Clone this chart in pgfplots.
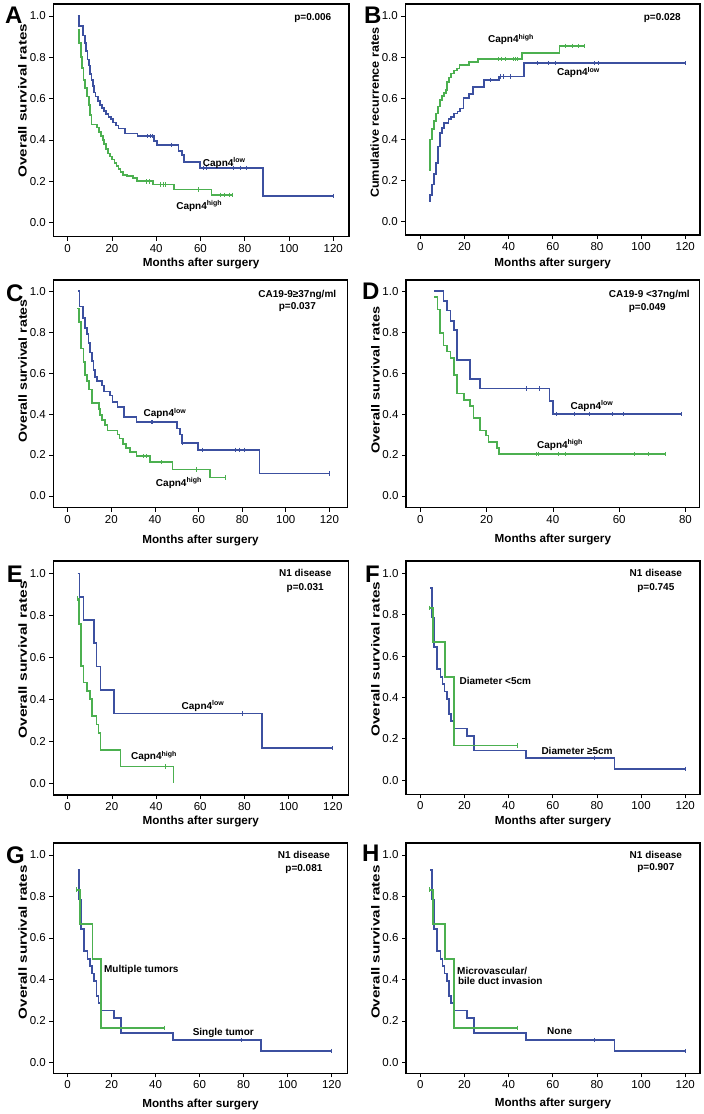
\documentclass[border=0pt]{standalone}
\usepackage{fontspec}
\setmainfont{Liberation Sans}
\usepackage{pgfplots}
\pgfplotsset{compat=1.18}
\usepackage{pgfplotstable}
\definecolor{kmblue}{RGB}{60,80,160}
\definecolor{kmgreen}{RGB}{76,176,80}
\newcommand{\annfont}{\fontsize{10}{12}\selectfont\bfseries}
\newcommand{\letfont}{\fontsize{24}{26}\selectfont\bfseries}
\newcommand{\labfont}{\fontsize{11.7}{13}\selectfont\bfseries}

\pgfplotstableread{
x y
4.5 0.929
5.3 0.786
6.2 0.643
7.5 0.536
9.1 0.50
10.1 0.464
11.0 0.429
12.1 0.393
13.1 0.321
14.0 0.286
15.1 0.25
21.1 0.214
24.2 0.143
47.8 0.107
88.0 0.054
120 0.054
}\nblue
\pgfplotstableread{
x y
79 0.107
120 0.054
}\nbluec
\pgfplotstableread{
x y
4.2 0.833
5.7 0.667
11.3 0.50
15.1 0.167
43.8 0.167
}\ngreen
\pgfplotstableread{
x y
4.2 0.833
43.8 0.167
}\ngreenc

\pgfplotsset{
  km/.style={
    scale only axis, anchor=north west,
    axis line style={line width=1.4pt},
    tick pos=left, tick align=outside, major tick length=4pt,
    tick style={line width=0.7pt, black},
    ytick={0,0.2,0.4,0.6,0.8,1},
    xtick={0,20,40,60,80,100,120},
    yticklabel style={/pgf/number format/.cd, fixed, fixed zerofill, precision=1},
    /pgf/number format/assume math mode=true,
    ticklabel style={font=\fontsize{11.5}{13}\selectfont},
    xlabel={Months after surgery},
  },
  xl/.style={every axis x label/.style={at={(axis description cs:0.5,0)}, anchor=center, yshift=-#1pt, font=\labfont}},
  yl/.style={every axis y label/.style={at={(axis description cs:-0.104,#1)}, anchor=center, rotate=90, font=\labfont}},
  bl/.style={kmblue, line width=1.7pt, const plot},
  gr/.style={kmgreen, line width=1.7pt, const plot},
  bc/.style={kmblue, only marks, mark=|, mark size=2.2pt, mark options={line width=0.7pt}},
  gc/.style={kmgreen, only marks, mark=|, mark size=2.2pt, mark options={line width=0.7pt}},
}

\begin{document}
\begin{tikzpicture}
\useasboundingbox (0,0) rectangle (704pt,-1114pt);

% ---------------- A ----------------
\begin{axis}[km, at={(53.3pt,-4pt)}, width=295.7pt, height=232.7pt,
  xmin=-6.5, xmax=127.1, ymin=-0.068, ymax=1.058, xl=26.3, yl=0.585,
  ylabel={\scalebox{1.3}[1]{Overall survival rates}}]
\addplot[bl] coordinates {(4.5,1.0) (5.1,0.952) (6.8,0.905) (7.8,0.87) (8.3,0.83) (9.0,0.79) (9.5,0.76) (10.1,0.72) (10.7,0.69) (11.3,0.66) (11.9,0.63) (12.5,0.61) (13.7,0.59) (14.6,0.57) (15.5,0.555) (16.4,0.54) (17.3,0.525) (18.5,0.51) (19.6,0.50) (20.6,0.485) (21.8,0.47) (23.0,0.455) (26.0,0.432) (31.6,0.419) (38.9,0.395) (40.2,0.376) (50.0,0.348) (51.5,0.327) (52.5,0.295) (59.8,0.265) (88.1,0.13) (120,0.13)};
\addplot[bc] coordinates {(36.1,0.419) (37.5,0.419) (38.4,0.419) (47,0.376) (61.3,0.265) (62.5,0.265) (75,0.265) (78,0.265) (80.8,0.265) (120,0.13)};
\addplot[gr] coordinates {(4.5,0.935) (5.1,0.87) (5.9,0.80) (6.5,0.75) (7.1,0.69) (7.8,0.65) (8.6,0.61) (9.5,0.57) (10.1,0.52) (10.7,0.475) (13.1,0.46) (14.0,0.44) (14.9,0.42) (15.8,0.40) (16.4,0.38) (17.3,0.355) (18.2,0.335) (19.1,0.32) (20.0,0.305) (21.2,0.29) (22.1,0.275) (22.9,0.26) (23.9,0.245) (25.1,0.23) (26.9,0.225) (29.4,0.215) (31.2,0.20) (38.4,0.185) (48.0,0.16) (65.0,0.135) (74.4,0.135)};
\addplot[gc] coordinates {(35.7,0.20) (36.9,0.20) (42,0.185) (43.2,0.185) (44,0.185) (59,0.16) (68.8,0.135) (71,0.135) (73,0.135) (74.4,0.135)};
\node[anchor=base east, font=\annfont] at (axis cs:120.7,0.977) {p=0.006};
\node[anchor=base west, font=\annfont, inner sep=0pt] at (axis cs:61,0.274) {Capn4\textsuperscript{low}};
\node[anchor=base west, font=\annfont, inner sep=0pt] at (axis cs:49,0.066) {Capn4\textsuperscript{high}};
\end{axis}

% ---------------- B ----------------
\begin{axis}[km, at={(405.3pt,-4pt)}, width=294.7pt, height=231pt,
  xmin=-6.8, xmax=126.7, ymin=-0.065, ymax=1.058, xl=28, yl=0.53,
  ylabel={\scalebox{1.08}[1]{Cumulative recurrence rates}}]
\addplot[gr] coordinates {(3.8,0.25) (4.4,0.40) (5.3,0.45) (6.2,0.49) (7.1,0.525) (8.0,0.56) (8.9,0.59) (9.8,0.61) (10.7,0.625) (11.6,0.64) (12.2,0.68) (13.1,0.70) (14.0,0.72) (15.2,0.735) (16.5,0.745) (17.7,0.76) (22.2,0.775) (26.1,0.79) (46.0,0.82) (63.0,0.855) (74.3,0.855)};
\addplot[gc] coordinates {(35.5,0.79) (36.6,0.79) (38.3,0.79) (42.3,0.79) (43,0.79) (43.8,0.79) (65.6,0.855) (68.7,0.855) (71.7,0.855) (74.3,0.855)};
\addplot[bl] coordinates {(3.8,0.10) (4.4,0.13) (5.3,0.18) (6.2,0.23) (7.1,0.285) (8.0,0.365) (8.9,0.43) (9.8,0.455) (10.7,0.48) (12.8,0.50) (14.0,0.51) (15.2,0.525) (16.8,0.535) (18.1,0.55) (19.6,0.60) (21.9,0.62) (23.8,0.655) (28.7,0.69) (35.5,0.705) (47.1,0.77) (120,0.77)};
\addplot[bc] coordinates {(31.7,0.69) (36.3,0.705) (37.8,0.705) (40.8,0.705) (52.8,0.77) (58,0.77) (61.1,0.77) (78.8,0.77) (80.5,0.77) (120,0.77)};
\node[anchor=base east, font=\annfont] at (axis cs:119.6,0.977) {p=0.028};
\node[anchor=base west, font=\annfont, inner sep=0pt] at (axis cs:30.6,0.87) {Capn4\textsuperscript{high}};
\node[anchor=base west, font=\annfont, inner sep=0pt] at (axis cs:61.9,0.708) {Capn4\textsuperscript{low}};
\end{axis}

% ---------------- C ----------------
\begin{axis}[km, at={(53.3pt,-280pt)}, width=294.4pt, height=227.7pt,
  xmin=-6.6, xmax=128.4, ymin=-0.057, ymax=1.054, xl=32.3, yl=0.60,
  ylabel={\scalebox{1.21}[1]{Overall survival rates}}]
\addplot[bl] coordinates {(4.9,1.0) (5.4,0.925) (6.9,0.87) (7.9,0.82) (8.7,0.79) (9.5,0.745) (10.2,0.70) (11.0,0.66) (11.8,0.615) (12.5,0.58) (13.3,0.56) (15.6,0.54) (16.7,0.51) (19.4,0.49) (20.6,0.46) (22.8,0.435) (25.8,0.385) (31.6,0.36) (50.0,0.33) (51.5,0.30) (52.4,0.26) (59.9,0.225) (87.9,0.11) (120,0.11)};
\addplot[bc] coordinates {(38.2,0.36) (38.8,0.36) (52.8,0.26) (61.8,0.225) (77,0.225) (78.7,0.225) (81,0.225) (120,0.11)};
\addplot[gr] coordinates {(4.4,0.915) (5.2,0.85) (6.0,0.72) (7.2,0.655) (7.9,0.59) (9.0,0.56) (9.9,0.52) (11.0,0.455) (14.2,0.425) (14.8,0.395) (15.7,0.37) (17.0,0.345) (18.2,0.32) (22.8,0.30) (23.7,0.28) (25.5,0.255) (26.8,0.235) (28.6,0.215) (31.6,0.195) (37.8,0.165) (48.0,0.13) (65.3,0.09) (72.5,0.09)};
\addplot[gc] coordinates {(34.7,0.195) (36,0.195) (42.8,0.165) (59.2,0.13) (72.5,0.09)};
\node[anchor=base, font=\annfont] at (axis cs:105.3,0.969) {CA19-9≥37ng/ml};
\node[anchor=base, font=\annfont] at (axis cs:105.3,0.91) {p=0.037};
\node[anchor=base west, font=\annfont, inner sep=0pt] at (axis cs:34.7,0.387) {Capn4\textsuperscript{low}};
\node[anchor=base west, font=\annfont, inner sep=0pt] at (axis cs:40.4,0.046) {Capn4\textsuperscript{high}};
\end{axis}

% ---------------- D ----------------
\begin{axis}[km, at={(406pt,-280pt)}, width=293.7pt, height=227.7pt,
  xmin=-4.3, xmax=84.3, ymin=-0.057, ymax=1.054, xl=32, yl=0.56,
  xtick={0,20,40,60,80},
  ylabel={\scalebox{1.24}[1]{Overall survival rates}}]
\addplot[bl] coordinates {(4.2,1.0) (7.0,0.95) (8.1,0.905) (9.1,0.855) (10.1,0.81) (11.1,0.665) (15.1,0.57) (18.1,0.525) (39.0,0.465) (40.0,0.40) (78.8,0.40)};
\addplot[bc] coordinates {(32,0.525) (35.9,0.525) (41,0.40) (46.6,0.40) (51,0.40) (58,0.40) (61.2,0.40) (78.8,0.40)};
\addplot[gr] coordinates {(4.2,0.97) (5.2,0.91) (6.0,0.795) (7.0,0.735) (8.1,0.705) (9.1,0.675) (10.1,0.59) (11.1,0.50) (13.1,0.47) (15.1,0.44) (16.1,0.38) (18.1,0.32) (19.8,0.295) (20.6,0.265) (23.1,0.235) (23.8,0.205) (74.0,0.205)};
\addplot[gc] coordinates {(34.9,0.205) (35.7,0.205) (41.8,0.205) (43.8,0.205) (64.7,0.205) (68.7,0.205) (74,0.205)};
\node[anchor=base, font=\annfont] at (axis cs:69.1,0.969) {CA19-9 <37ng/ml};
\node[anchor=base, font=\annfont] at (axis cs:68.5,0.904) {p=0.049};
\node[anchor=base west, font=\annfont, inner sep=0pt] at (axis cs:45.3,0.423) {Capn4\textsuperscript{low}};
\node[anchor=base west, font=\annfont, inner sep=0pt] at (axis cs:35.2,0.233) {Capn4\textsuperscript{high}};
\end{axis}

% ---------------- E ----------------
\begin{axis}[km, at={(53.3pt,-561pt)}, width=295pt, height=234pt,
  xmin=-6.5, xmax=127, ymin=-0.056, ymax=1.059, xl=26.7, yl=0.577,
  ylabel={\scalebox{1.33}[1]{Overall survival rates}}]
\addplot[bl] coordinates {(4.5,1.0) (5.3,0.889) (7.1,0.778) (12.0,0.667) (13.1,0.556) (14.9,0.444) (21.1,0.333) (87.9,0.167) (120,0.167)};
\addplot[bc] coordinates {(79,0.333) (120,0.167)};
\addplot[gr] coordinates {(4.4,0.88) (5.0,0.76) (6.0,0.56) (7.1,0.48) (8.9,0.44) (10.1,0.40) (11.0,0.32) (13.1,0.28) (14.0,0.24) (14.9,0.16) (23.9,0.08) (47.9,0.0)};
\addplot[gc] coordinates {(4.4,0.88) (44,0.08)};
\node[anchor=base, font=\annfont] at (axis cs:107.5,0.984) {N1 disease};
\node[anchor=base, font=\annfont] at (axis cs:107.5,0.917) {p=0.031};
\node[anchor=base west, font=\annfont, inner sep=0pt] at (axis cs:51.5,0.352) {Capn4\textsuperscript{low}};
\node[anchor=base west, font=\annfont, inner sep=0pt] at (axis cs:28.6,0.111) {Capn4\textsuperscript{high}};
\end{axis}

% ---------------- F ----------------
\begin{axis}[km, at={(406pt,-561pt)}, width=294pt, height=233.3pt,
  xmin=-6.5, xmax=126.7, ymin=-0.069, ymax=1.06, xl=27.4, yl=0.58,
  ylabel={\scalebox{1.31}[1]{Overall survival rates}}]
\addplot[bl] table {\nblue};
\addplot[bc] table {\nbluec};
\addplot[gr] table {\ngreen};
\addplot[gc] table {\ngreenc};
\node[anchor=base, font=\annfont] at (axis cs:106.7,0.984) {N1 disease};
\node[anchor=base, font=\annfont] at (axis cs:106.7,0.919) {p=0.745};
\node[anchor=base west, font=\annfont, inner sep=0pt] at (axis cs:17.7,0.463) {Diameter <5cm};
\node[anchor=base west, font=\annfont, inner sep=0pt] at (axis cs:54.8,0.124) {Diameter ≥5cm};
\end{axis}

% ---------------- G ----------------
\begin{axis}[km, at={(53.3pt,-843pt)}, width=294.4pt, height=230.3pt,
  xmin=-6.5, xmax=127.3, ymin=-0.053, ymax=1.058, xl=30.7, yl=0.569,
  ylabel={\scalebox{1.3}[1]{Overall survival rates}}]
\addplot[bl] table {\nblue};
\addplot[bc] table {\nbluec};
\addplot[gr] table {\ngreen};
\addplot[gc] table {\ngreenc};
\node[anchor=base, font=\annfont] at (axis cs:107.4,0.981) {N1 disease};
\node[anchor=base, font=\annfont] at (axis cs:107.4,0.921) {p=0.081};
\node[anchor=base west, font=\annfont, inner sep=0pt] at (axis cs:16.5,0.434) {Multiple tumors};
\node[anchor=base west, font=\annfont, inner sep=0pt] at (axis cs:56.8,0.129) {Single tumor};
\end{axis}

% ---------------- H ----------------
\begin{axis}[km, at={(406pt,-843pt)}, width=294pt, height=230.3pt,
  xmin=-6.5, xmax=126.7, ymin=-0.053, ymax=1.058, xl=30, yl=0.57,
  ylabel={\scalebox{1.3}[1]{Overall survival rates}}]
\addplot[bl] table {\nblue};
\addplot[bc] table {\nbluec};
\addplot[gr] table {\ngreen};
\addplot[gc] table {\ngreenc};
\node[anchor=base, font=\annfont] at (axis cs:106.7,0.984) {N1 disease};
\node[anchor=base, font=\annfont] at (axis cs:106.7,0.924) {p=0.907};
\node[anchor=base west, font=\annfont, inner sep=0pt] at (axis cs:16.6,0.426) {Microvascular/};
\node[anchor=base west, font=\annfont, inner sep=0pt] at (axis cs:17,0.375) {bile duct invasion};
\node[anchor=base west, font=\annfont, inner sep=0pt] at (axis cs:57.4,0.132) {None};
\end{axis}

% panel letters
\node[anchor=base west, inner sep=0pt, font=\letfont] at (5pt,-23pt) {A};
\node[anchor=base west, inner sep=0pt, font=\letfont] at (364pt,-23pt) {B};
\node[anchor=base west, inner sep=0pt, font=\letfont] at (6pt,-301pt) {C};
\node[anchor=base west, inner sep=0pt, font=\letfont] at (362pt,-299.5pt) {D};
\node[anchor=base west, inner sep=0pt, font=\letfont] at (6.7pt,-582pt) {E};
\node[anchor=base west, inner sep=0pt, font=\letfont] at (365pt,-582pt) {F};
\node[anchor=base west, inner sep=0pt, font=\letfont] at (6pt,-863pt) {G};
\node[anchor=base west, inner sep=0pt, font=\letfont] at (362pt,-861pt) {H};
\end{tikzpicture}
\end{document}
